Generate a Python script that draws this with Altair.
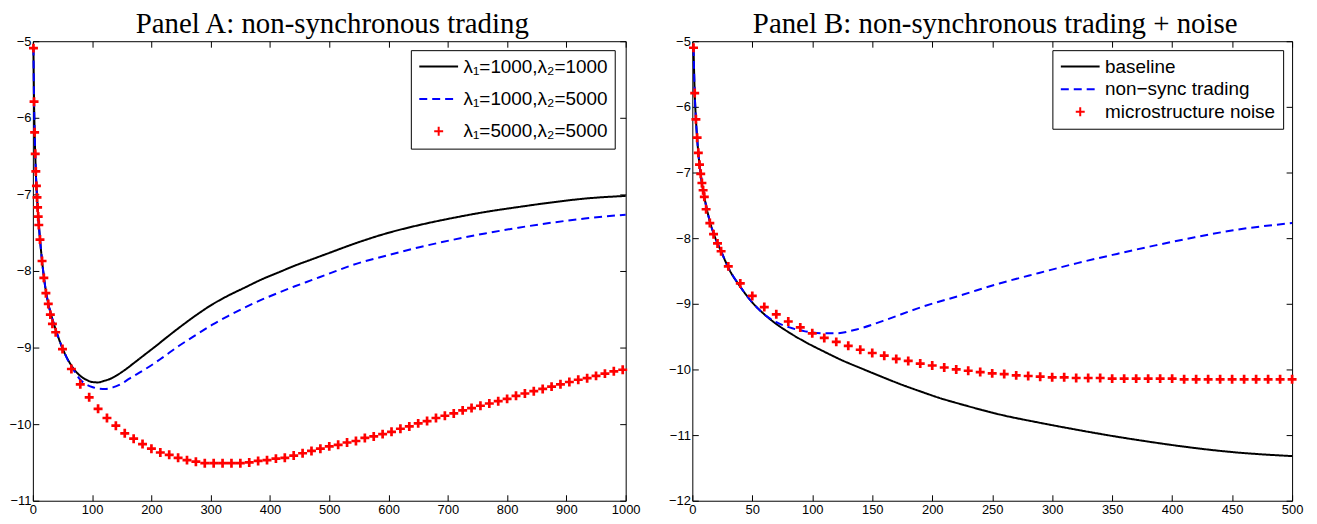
import altair as alt
import pandas as pd

TITLE_A = "Panel A: non-synchronous trading"
TITLE_B = "Panel B: non-synchronous trading + noise"

SERIES_A = ["λ₁=1000,λ₂=1000", "λ₁=1000,λ₂=5000", "λ₁=5000,λ₂=5000"]
SERIES_B = ["baseline", "non−sync trading", "microstructure noise"]

A_X_TICKS = [0, 100, 200, 300, 400, 500, 600, 700, 800, 900, 1000]
A_Y_TICKS = [-11, -10, -9, -8, -7, -6, -5]
B_X_TICKS = [0, 50, 100, 150, 200, 250, 300, 350, 400, 450, 500]
B_Y_TICKS = [-12, -11, -10, -9, -8, -7, -6, -5]

# ---------------- Panel A ----------------
A_BLACK_X = [1, 2, 3, 4, 5, 6, 7, 8, 9, 10, 12, 15, 20, 25, 30, 35, 40, 50, 60, 70,
             80, 90, 100, 110, 120, 130, 140, 150, 160, 170, 180, 190, 200, 210, 218,
             246, 274, 302, 330, 358, 386, 414, 442, 470, 498, 540, 596, 652, 707, 763,
             819, 875, 931, 1000]
A_BLACK_Y = [-5.08, -5.79, -6.19, -6.48, -6.71, -6.89, -7.03, -7.16, -7.29, -7.39, -7.58,
             -7.83, -8.16, -8.39, -8.55, -8.68, -8.80, -9.01, -9.17, -9.29, -9.37, -9.42,
             -9.45, -9.455, -9.435, -9.41, -9.37, -9.32, -9.265, -9.205, -9.145, -9.085,
             -9.025, -8.965, -8.915, -8.745, -8.585, -8.44, -8.32, -8.215, -8.11, -8.02,
             -7.93, -7.85, -7.77, -7.65, -7.51, -7.40, -7.31, -7.23, -7.165, -7.105,
             -7.055, -7.02]

A_BLUE_X = [1, 2, 3, 4, 5, 6, 7, 8, 9, 10, 12, 15, 20, 25, 30, 35, 40, 50, 60, 70, 80,
            90, 100, 110, 123, 135, 150, 162, 175, 190, 205, 218, 246, 274, 302, 330,
            358, 386, 414, 442, 470, 498, 540, 596, 652, 707, 763, 819, 875, 931, 1000]
A_BLUE_Y = [-5.08, -5.79, -6.19, -6.48, -6.71, -6.89, -7.03, -7.16, -7.29, -7.39, -7.58,
            -7.83, -8.16, -8.39, -8.55, -8.68, -8.80, -9.01, -9.18, -9.31, -9.42, -9.48,
            -9.515, -9.535, -9.54, -9.52, -9.47, -9.41, -9.35, -9.28, -9.205, -9.135,
            -8.98, -8.84, -8.705, -8.585, -8.475, -8.375, -8.285, -8.20, -8.12, -8.04,
            -7.92, -7.80, -7.69, -7.595, -7.51, -7.435, -7.37, -7.315, -7.265]

A_RED_X = [1, 2, 3, 4, 5, 6, 7, 8, 9, 10, 12, 15.5, 18.5, 22, 26, 29.5, 33, 38.5, 50,
           65, 80, 95, 110, 125, 140, 155, 170, 185, 200, 215, 230, 245, 260, 275, 290,
           305, 320, 335, 350, 365, 380, 395, 410, 425, 440, 455, 470, 485, 500, 515,
           530, 545, 560, 575, 590, 605, 620, 635, 650, 665, 680, 695, 710, 725, 740,
           755, 770, 785, 800, 815, 830, 845, 860, 875, 890, 905, 920, 935, 950, 965,
           980, 995]
A_RED_Y = [-5.09, -5.79, -6.19, -6.47, -6.70, -6.89, -7.04, -7.17, -7.29, -7.40, -7.59,
           -7.87, -8.09, -8.29, -8.43, -8.57, -8.69, -8.80, -9.02, -9.28, -9.48, -9.65,
           -9.80, -9.92, -10.02, -10.12, -10.19, -10.26, -10.32, -10.37, -10.40, -10.44,
           -10.47, -10.49, -10.51, -10.51, -10.51, -10.51, -10.51, -10.50, -10.48,
           -10.47, -10.45, -10.44, -10.41, -10.38, -10.35, -10.32, -10.29, -10.27,
           -10.24, -10.22, -10.18, -10.16, -10.13, -10.10, -10.06, -10.03, -9.99, -9.96,
           -9.92, -9.89, -9.86, -9.82, -9.79, -9.76, -9.73, -9.70, -9.67, -9.63, -9.60,
           -9.57, -9.54, -9.51, -9.48, -9.45, -9.42, -9.40, -9.37, -9.34, -9.31, -9.29]

# ---------------- Panel B ----------------
B_BLACK_X = [1, 2, 3, 4, 5, 6, 7, 8, 9, 10, 12, 15, 18, 21, 24, 30, 40, 50, 60, 68, 80,
             94, 110, 126, 143, 159, 175, 191, 207, 224, 240, 256, 289, 321, 354, 386,
             418, 451, 500]
B_BLACK_Y = [-5.10, -5.79, -6.19, -6.47, -6.70, -6.88, -7.02, -7.16, -7.27, -7.37, -7.55,
             -7.77, -7.94, -8.08, -8.20, -8.45, -8.74, -8.98, -9.16, -9.28, -9.43, -9.58,
             -9.73, -9.87, -10.00, -10.12, -10.235, -10.34, -10.44, -10.53, -10.61,
             -10.685, -10.81, -10.92, -11.025, -11.115, -11.195, -11.26, -11.32]

B_BLUE_X = [1, 2, 3, 4, 5, 6, 7, 8, 9, 10, 12, 15, 18, 21, 24, 30, 40, 50, 60, 70, 81,
            94, 110, 120, 135, 159, 191, 224, 256, 289, 321, 354, 386, 418, 451, 500]
B_BLUE_Y = [-5.10, -5.79, -6.19, -6.47, -6.70, -6.88, -7.02, -7.16, -7.27, -7.37, -7.55,
            -7.77, -7.94, -8.08, -8.20, -8.45, -8.74, -8.98, -9.16, -9.28, -9.36, -9.42,
            -9.45, -9.45, -9.40, -9.26, -9.05, -8.87, -8.69, -8.53, -8.38, -8.24, -8.11,
            -7.99, -7.88, -7.77]

B_RED_X = [1, 2, 3, 4, 5, 6, 7, 8, 9, 10, 11.5, 14.6, 17.7, 21, 24, 30, 40, 50, 60, 70,
           80, 90, 100, 110, 120, 130, 140, 150, 160, 170, 180, 190, 200, 210, 220, 230,
           240, 250, 260, 270, 280, 290, 300, 310, 320, 330, 340, 350, 360, 370, 380,
           390, 400, 410, 420, 430, 440, 450, 460, 470, 480, 490, 500]
B_RED_Y = [-5.10, -5.79, -6.19, -6.47, -6.70, -6.88, -7.02, -7.16, -7.27, -7.37, -7.56,
           -7.77, -7.94, -8.08, -8.20, -8.43, -8.69, -8.88, -9.05, -9.16, -9.27, -9.36,
           -9.45, -9.52, -9.58, -9.64, -9.70, -9.75, -9.79, -9.84, -9.87, -9.91, -9.94,
           -9.97, -10.00, -10.02, -10.04, -10.06, -10.07, -10.09, -10.10, -10.11, -10.12,
           -10.12, -10.13, -10.13, -10.13, -10.14, -10.14, -10.14, -10.14, -10.14,
           -10.14, -10.15, -10.15, -10.15, -10.15, -10.15, -10.15, -10.15, -10.15,
           -10.15, -10.15]

COLORS = ["#000000", "#0000ff", "#ff0000"]
DASHES = [[1, 0], [8, 5], [1, 0]]
LINE_SYM = "M-1,0H3.875"
PLUS_SYM = "M0.875,0H2M1.4375,-0.5625V0.5625"
SHAPES = [LINE_SYM, LINE_SYM, PLUS_SYM]


def long_df(parts):
    rows = []
    for name, xs, ys in parts:
        for xv, yv in zip(xs, ys):
            rows.append({"series": name, "x": xv, "y": yv})
    return pd.DataFrame(rows)


def make_panel(lines_df, pts_df, series, xdom, ydom, xticks, yticks, w, h, title,
               lx, ly, rowpad):
    leg = alt.Legend(title=None, orient="none", legendX=lx, legendY=ly,
                     direction="vertical", symbolSize=256, symbolStrokeWidth=2,
                     labelFont="Liberation Sans", labelFontSize=19, labelColor="black",
                     labelOffset=27, labelLimit=400, padding=7, rowPadding=rowpad,
                     strokeColor="black", fillColor="white")
    xs = alt.Scale(domain=xdom, nice=False, zero=False)
    ys = alt.Scale(domain=ydom, nice=False, zero=False)
    color = alt.Color("series:N", scale=alt.Scale(domain=series, range=COLORS), legend=leg)
    dash = alt.StrokeDash("series:N", scale=alt.Scale(domain=series, range=DASHES), legend=leg)
    shape = alt.Shape("series:N", scale=alt.Scale(domain=series, range=SHAPES), legend=leg)

    common = dict(title=None, grid=False, domain=False)
    lab_x = alt.Axis(orient="bottom", values=xticks, ticks=False, tickSize=0, format="d",
                     labelFlush=False, labelOverlap=False, labelPadding=3, **common)
    lab_y = alt.Axis(orient="left", values=yticks, ticks=False, tickSize=0, format="d",
                     labelOverlap=False, labelPadding=2, **common)
    tick_bottom = alt.Axis(orient="top", offset=-h, values=xticks, labels=False,
                           ticks=True, tickSize=6, **common)
    tick_top = alt.Axis(orient="bottom", offset=-h, values=xticks, labels=False,
                        ticks=True, tickSize=6, **common)
    tick_left = alt.Axis(orient="right", offset=-w, values=yticks, labels=False,
                         ticks=True, tickSize=6, **common)
    tick_right = alt.Axis(orient="left", offset=-w, values=yticks, labels=False,
                          ticks=True, tickSize=6, **common)

    lines = alt.Chart(lines_df).mark_line(strokeWidth=2, interpolate="monotone").encode(
        x=alt.X("x:Q", scale=xs, axis=lab_x),
        y=alt.Y("y:Q", scale=ys, axis=lab_y),
        color=color,
        strokeDash=dash,
    )
    pts = alt.Chart(pts_df).mark_point(filled=False, size=256, strokeWidth=2.7,
                                       opacity=1, xOffset=-11.5).encode(
        x=alt.X("x:Q", scale=xs, axis=tick_bottom),
        y=alt.Y("y:Q", scale=ys, axis=tick_left),
        color=color,
        shape=shape,
    )
    dummy = alt.Chart(pts_df).mark_point(opacity=0, size=1).encode(
        x=alt.X("x:Q", scale=xs, axis=tick_top),
        y=alt.Y("y:Q", scale=ys, axis=tick_right),
    )
    return alt.layer(lines, pts, dummy).resolve_axis(
        x="independent", y="independent"
    ).properties(width=w, height=h, title=alt.Title(title, dx=3))


a_lines = long_df([(SERIES_A[0], A_BLACK_X, A_BLACK_Y), (SERIES_A[1], A_BLUE_X, A_BLUE_Y)])
a_pts = long_df([(SERIES_A[2], A_RED_X, A_RED_Y)])
b_lines = long_df([(SERIES_B[0], B_BLACK_X, B_BLACK_Y), (SERIES_B[1], B_BLUE_X, B_BLUE_Y)])
b_pts = long_df([(SERIES_B[2], B_RED_X, B_RED_Y)])

panel_a = make_panel(a_lines, a_pts, SERIES_A, [0, 1000], [-11, -5], A_X_TICKS, A_Y_TICKS,
                     596, 462, TITLE_A, 380, 9, 12.5)
panel_b = make_panel(b_lines, b_pts, SERIES_B, [0, 500], [-12, -5], B_X_TICKS, B_Y_TICKS,
                     603, 462, TITLE_B, 362, 9, 2.7)

chart = alt.hconcat(panel_a, panel_b, spacing=27).resolve_scale(
    color="independent", strokeDash="independent", shape="independent"
).properties(
    padding={"left": 0, "top": 0, "right": 5, "bottom": 5}
).configure_view(
    stroke="black", strokeWidth=1
).configure_axis(
    labelFont="Liberation Sans", labelFontSize=13, labelColor="black",
    tickColor="black", tickWidth=1
).configure_title(
    font="Liberation Serif", fontSize=29, fontWeight="normal", color="black",
    anchor="middle", frame="group", offset=-4
)

chart.save("out.html", embed_options={"renderer": "svg", "actions": False})
